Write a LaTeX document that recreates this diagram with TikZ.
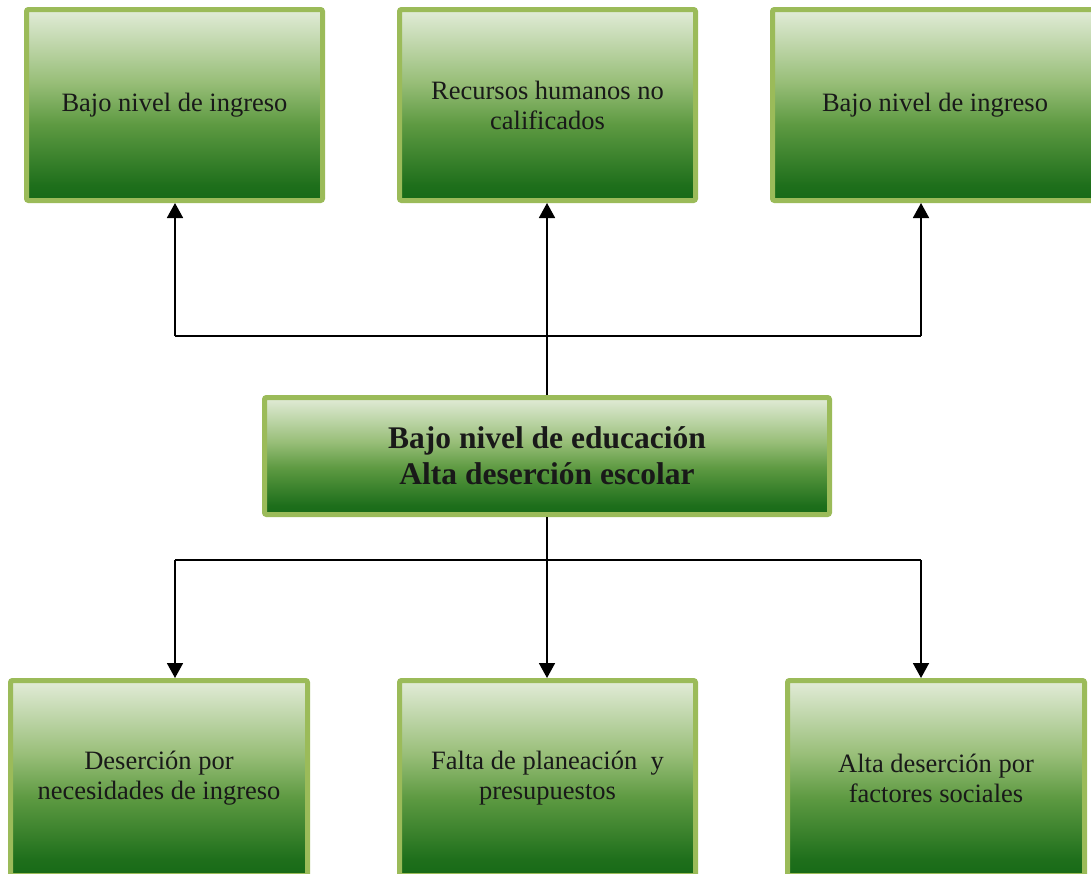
\documentclass[tikz,border=0pt]{standalone}
\usepackage{fontspec}
\setmainfont{Liberation Serif}
\usetikzlibrary{arrows.meta}
\definecolor{boxedge}{HTML}{9BBB59}
\definecolor{gtop}{HTML}{E2ECD8}
\definecolor{gmid}{HTML}{98BE78}
\definecolor{glow}{HTML}{5E9A42}
\definecolor{gbot}{HTML}{176A17}
\pgfdeclareverticalshading{greenbox}{100bp}{color(0bp)=(gbot); color(25bp)=(gbot); color(29bp)=(gbot!90!glow); color(45bp)=(glow); color(56bp)=(gmid); color(75bp)=(gtop); color(100bp)=(gtop)}
\tikzset{
  gbox/.style={draw=boxedge, line width=5pt, rounded corners=2pt, shading=greenbox,
    align=center, text=black!90, inner sep=0pt,
    font=\fontsize{26.5}{30}\selectfont},
  cbox/.style={gbox, font=\fontsize{31.5}{36}\selectfont\bfseries},
  conn/.style={line width=1.8pt, black},
  arr/.style={conn, -{Triangle[width=16pt,length=15pt]}}
}
\begin{document}
\begin{tikzpicture}[x=1pt,y=-1pt]
\useasboundingbox (0,0) rectangle (1091,873);
\clip (0,0) rectangle (1091,873);
% top boxes
\node[gbox, minimum width=296pt, minimum height=191pt] (t1) at (174.5,105) {Bajo nivel de ingreso};
\node[gbox, minimum width=296pt, minimum height=191pt] (t2) at (547.5,105) {Recursos humanos no\\calificados};
\node[gbox, minimum width=325pt, minimum height=191pt] (t3) at (935,105) {Bajo nivel de ingreso};
% center
\node[cbox, minimum width=565pt, minimum height=117pt] (c) at (547,456) {Bajo nivel de educación\\Alta deserción escolar};
% bottom boxes
\node[gbox, minimum width=297pt, minimum height=195pt] (b1) at (159,778) {Deserción por\\necesidades de ingreso};
\node[gbox, minimum width=296pt, minimum height=195pt] (b2) at (547.5,778) {Falta de planeación~ y\\presupuestos};
\node[gbox, minimum width=297pt, minimum height=195pt] (b3) at (936,778) {Alta deserción por\\factores sociales};
% upper connectors
\draw[arr] (c.north) -- (c.north |- t2.south);
\draw[arr] (175,336) -- (175,336 |- t1.south);
\draw[conn] (175,336) -- (921,336);
\draw[arr] (921,336) -- (921,336 |- t3.south);
% lower connectors
\draw[arr] (c.south) -- (c.south |- b2.north);
\draw[conn] (175,560) -- (921,560);
\draw[arr] (175,560) -- (175,560 |- b1.north);
\draw[arr] (921,560) -- (921,560 |- b3.north);
\end{tikzpicture}
\end{document}
